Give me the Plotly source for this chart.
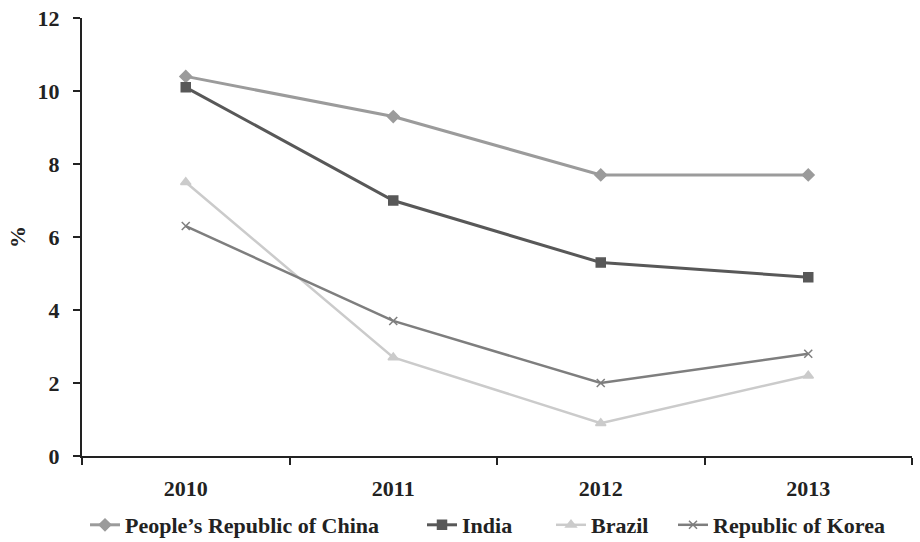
import plotly.graph_objects as go

years = ["2010", "2011", "2012", "2013"]
china = [10.4, 9.3, 7.7, 7.7]
india = [10.1, 7.0, 5.3, 4.9]
brazil = [7.5, 2.7, 0.9, 2.2]
korea = [6.3, 3.7, 2.0, 2.8]

series_names = ["People\u2019s Republic of China", "India", "Brazil", "Republic of Korea"]
series_values = [china, india, brazil, korea]
colors = ["#9b9b9b", "#585858", "#cbcbcb", "#7e7e7e"]
symbols = ["diamond", "square", "triangle-up", "x-thin"]
msizes = [9, 9, 9, 8]
lwidths = [3, 3, 2.5, 2.5]
legend_ids = ["legend", "legend2", "legend3", "legend4"]
# screen x where each legend text starts
legend_text_px = [125, 462, 591, 713]

W, H = 920, 542
L, R, T, B = 82, 8, 18, 86
pw = W - L - R
ph = H - T - B

FONT = "Liberation Serif"
FS = 22
fig = go.Figure()
for name, vals, c, s, ms, lw, lid in zip(series_names, series_values, colors, symbols, msizes, lwidths, legend_ids):
    fig.add_trace(go.Scatter(
        x=years, y=vals, name=name, mode="lines+markers",
        line=dict(color=c, width=lw),
        marker=dict(symbol=s, size=ms, color=c, line=dict(color=c, width=1.5)),
        legend=lid,
    ))

legend_common = dict(orientation="h", yanchor="middle", xanchor="left",
                     font=dict(family=FONT, size=FS, color="#222222", weight="bold"),
                     bgcolor="rgba(0,0,0,0)", borderwidth=0)
layout_legends = {}
for lid, tx in zip(legend_ids, legend_text_px):
    layout_legends[lid] = dict(legend_common,
                               x=(tx - 40 - L) / pw,
                               y=((T + ph) - 525) / ph)

fig.update_layout(
    width=W, height=H,
    margin=dict(l=L, r=R, t=T, b=B, autoexpand=False),
    plot_bgcolor="white", paper_bgcolor="white",
    font=dict(family=FONT, size=FS, color="#222222", weight="bold"),
    showlegend=True,
    **layout_legends,
    xaxis=dict(
        type="category", tickson="boundaries", ticks="outside", ticklen=7,
        tickwidth=2, tickcolor="#222222",
        showline=True, linecolor="#222222", linewidth=2,
        showgrid=False, zeroline=False, automargin=False,
        tickfont=dict(family=FONT, size=FS, color="#222222", weight="bold"),
        ticklabelstandoff=12, ticklabeloverflow="allow",
        range=[-0.5, 3.5],
    ),
    yaxis=dict(
        range=[0, 12], tickmode="array", tickvals=[0, 2, 4, 6, 8, 10, 12],
        ticks="outside", ticklen=7,
        tickwidth=2, tickcolor="#222222",
        showline=True, linecolor="#222222", linewidth=2,
        showgrid=False, zeroline=False, automargin=False,
        tickfont=dict(family=FONT, size=FS, color="#222222", weight="bold"),
        ticklabelstandoff=9, ticklabeloverflow="allow",
        title=dict(text="%", font=dict(family=FONT, size=FS, color="#222222", weight="bold"), standoff=6),
    ),
)

fig.write_html("out.html", config={"displayModeBar": False},
               post_script="document.body.style.margin='0';")
